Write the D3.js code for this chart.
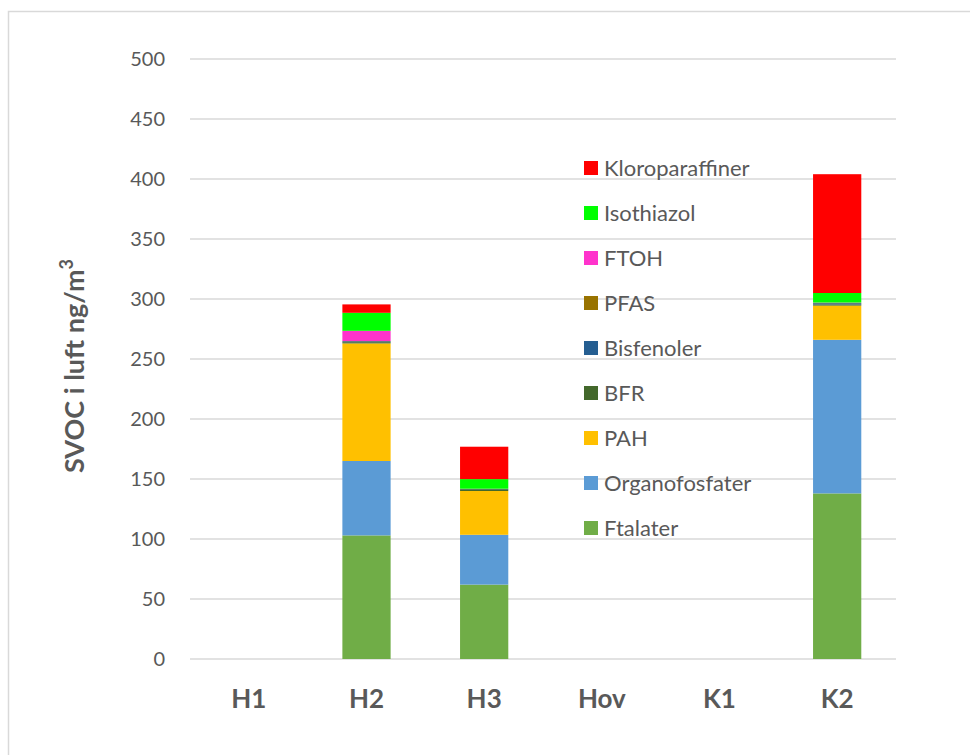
<!DOCTYPE html>
<html><head><meta charset="utf-8">
<script src="https://cdn.jsdelivr.net/npm/d3@7"></script>
<style>body{margin:0;background:#fff}svg{display:block}</style>
</head><body><svg id="c" width="970" height="755"></svg>
<script>
const categories = ["H1","H2","H3","Hov","K1","K2"];
const seriesNames = ["Ftalater","Organofosfater","PAH","BFR","Bisfenoler","PFAS","FTOH","Isothiazol","Kloroparaffiner"];
const Ftalater = [0,103,62,0,0,138];
const Organofosfater = [0,62,41.5,0,0,128];
const PAH = [0,98,36.5,0,0,28.5];
const BFR = [0,1,1.5,0,0,1];
const Bisfenoler = [0,0.8,0.2,0,0,1];
const PFAS = [0,0.2,0.1,0,0,0.2];
const FTOH = [0,8.5,0.1,0,0,0.3];
const Isothiazol = [0,15,8,0,0,8];
const Kloroparaffiner = [0,7,27,0,0,99];
const yTicks = [0,50,100,150,200,250,300,350,400,450,500];
const colors = ["#70AD47","#5B9BD5","#FFC000","#43682B","#255E91","#997300","#FF33CC","#00FF00","#FF0000"];
const seriesValues = [Ftalater,Organofosfater,PAH,BFR,Bisfenoler,PFAS,FTOH,Isothiazol,Kloroparaffiner];

const svg = d3.select("#c");
const font = "Lato, 'Open Sans', sans-serif";
svg.append("rect").attr("x",8.5).attr("y",11.5).attr("width",1000).attr("height",1000)
  .attr("fill","none").attr("stroke","#D9D9D9").attr("stroke-width",1.5);

const x = d3.scaleBand().domain(categories).range([190,896]).padding(0);
const y = d3.scaleLinear().domain([0,500]).range([659,59]);

// grid
svg.append("g").selectAll("line").data(yTicks).join("line")
  .attr("x1",190).attr("x2",896).attr("y1",d=>y(d)).attr("y2",d=>y(d))
  .attr("stroke","#D9D9D9").attr("stroke-width",1.5);

// y labels
svg.append("g").selectAll("text").data(yTicks).join("text")
  .attr("x",165).attr("y",d=>y(d)).attr("dy","0.35em").attr("text-anchor","end")
  .attr("font-family",font).attr("font-size",20).attr("fill","#595959").text(d=>d);

// x labels
svg.append("g").selectAll("text").data(categories).join("text")
  .attr("x",d=>x(d)+x.bandwidth()/2).attr("y",699).attr("dy","0.35em").attr("text-anchor","middle")
  .attr("font-family",font).attr("font-size",26).attr("font-weight","bold").attr("fill","#595959").text(d=>d);

// stacked bars
const table = categories.map((c,i)=>{const o={cat:c};seriesNames.forEach((s,j)=>o[s]=seriesValues[j][i]);return o;});
const stack = d3.stack().keys(seriesNames)(table);
const bw = x.bandwidth()*0.41;
svg.append("g").selectAll("g").data(stack).join("g").attr("fill",(d,i)=>colors[i])
  .selectAll("rect").data(d=>d).join("rect")
  .attr("x",d=>x(d.data.cat)+x.bandwidth()/2-bw/2).attr("width",bw)
  .attr("y",d=>y(d[1])).attr("height",d=>Math.max(0,y(d[0])-y(d[1])));

// y title
svg.append("text").attr("transform","translate(84,366) rotate(-90)").attr("text-anchor","middle")
  .attr("font-family",font).attr("font-size",27).attr("font-weight","bold").attr("fill","#595959")
  .text("SVOC i luft ng/m").append("tspan").attr("dy",-11).attr("font-size",18).text("3");

// legend
const legendOrder = seriesNames.slice().reverse();
const lg = svg.append("g").selectAll("g").data(legendOrder).join("g")
  .attr("transform",(d,i)=>`translate(584,${168+i*45})`);
lg.append("rect").attr("x",0).attr("y",-7).attr("width",14).attr("height",14)
  .attr("fill",d=>colors[seriesNames.indexOf(d)]);
lg.append("text").attr("x",20).attr("y",0).attr("dy","0.35em")
  .attr("font-family",font).attr("font-size",22).attr("fill","#595959").text(d=>d);
</script></body></html>
